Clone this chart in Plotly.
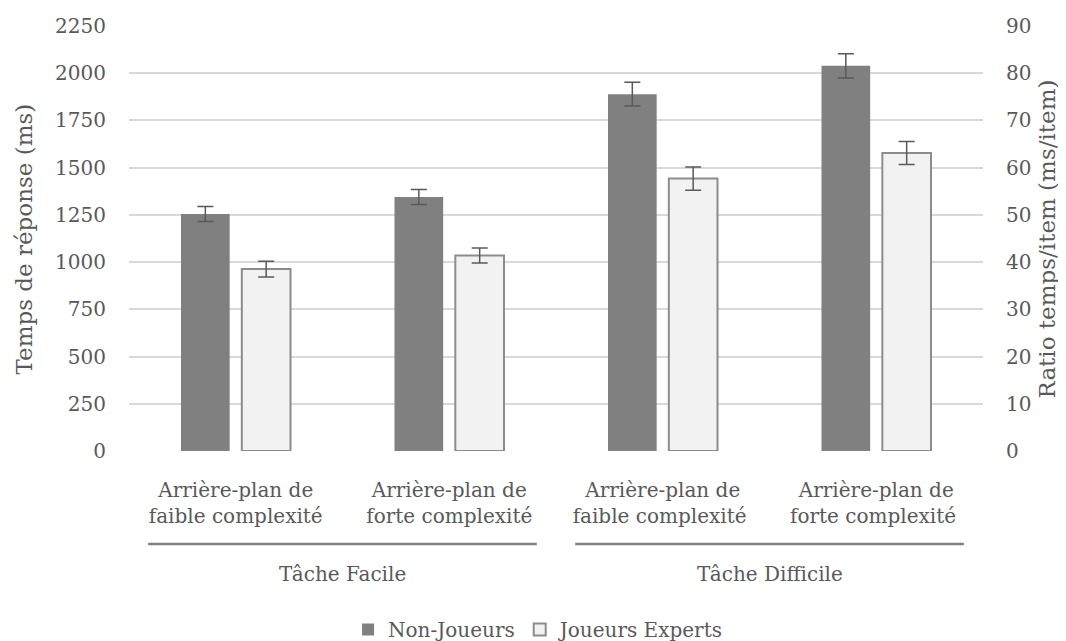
import plotly.graph_objects as go

categories = ["Arrière-plan de<br>faible complexité", "Arrière-plan de<br>forte complexité",
              "Arrière-plan de<br>faible complexité ", "Arrière-plan de<br>forte complexité "]
groups = ["Tâche Facile", "Tâche Difficile"]
non_joueurs = [1255, 1345, 1889, 2039]
non_joueurs_err = [40, 40, 63, 64]
joueurs_experts = [963, 1035, 1442, 1578]
joueurs_experts_err = [42, 40, 62, 61]
left_ticks = [0, 250, 500, 750, 1000, 1250, 1500, 1750, 2000, 2250]
right_ticks = [0, 10, 20, 30, 40, 50, 60, 70, 80, 90]
left_title = "Temps de réponse (ms)"
right_title = "Ratio temps/item (ms/item)"

FONT = "DejaVu Serif"
TXT = "#595959"

fig = go.Figure()
fig.add_trace(go.Bar(
    x=categories, y=non_joueurs, name="Non-Joueurs",
    marker=dict(color="#808080", line=dict(width=0)),
    error_y=dict(type="data", array=non_joueurs_err, color="#595959", thickness=1.5, width=8),
))
fig.add_trace(go.Bar(
    x=categories, y=joueurs_experts, name="Joueurs Experts",
    marker=dict(color="#f2f2f2", line=dict(color="#8c8c8c", width=2)),
    error_y=dict(type="data", array=joueurs_experts_err, color="#595959", thickness=1.5, width=8),
))
# invisible trace to activate the secondary axis
fig.add_trace(go.Scatter(x=categories, y=[None] * 4, yaxis="y2", showlegend=False,
                         hoverinfo="skip", mode="markers"))

fig.update_layout(
    width=1066, height=641,
    margin=dict(l=121, r=91, t=18, b=198, autoexpand=False),
    paper_bgcolor="white", plot_bgcolor="white",
    font=dict(family=FONT, size=20, color=TXT),
    barmode="group", bargap=0.43, bargroupgap=0.2,
    showlegend=True,
    legend=dict(orientation="h", x=0.319, xref="container", xanchor="left",
                y=0, yref="container", yanchor="bottom", font=dict(size=20, color=TXT),
                itemwidth=30, traceorder="normal"),
    xaxis=dict(type="category", showgrid=False, showline=False, ticks="", automargin=False,
               tickfont=dict(size=20, color=TXT), ticklabelstandoff=25, range=[-0.5, 3.5]),
    yaxis=dict(range=[0, 2250], tickvals=left_ticks, showgrid=True, gridcolor="#d9d9d9",
               gridwidth=1.5, zeroline=False, showline=False, ticks="", automargin=False,
               ticklabelstandoff=22, tickfont=dict(size=20, color=TXT)),
    yaxis2=dict(range=[0, 90], tickvals=right_ticks, overlaying="y", side="right",
                showgrid=False, zeroline=False, showline=False, ticks="", automargin=False,
                ticklabelstandoff=22, tickfont=dict(size=20, color=TXT)),
)

# axis titles
fig.add_annotation(x=-0.123, xref="paper", y=0.5, yref="paper", text=left_title, textangle=-90,
                   showarrow=False, xanchor="center", yanchor="middle",
                   font=dict(size=23, color=TXT))
fig.add_annotation(x=1.0749, xref="paper", y=0.5, yref="paper", text=right_title, textangle=-90,
                   showarrow=False, xanchor="center", yanchor="middle",
                   font=dict(size=23, color=TXT))

# group separators and group labels
for i, g in enumerate(groups):
    c = 2 * i + 0.5
    fig.add_shape(type="line", xref="x", yref="paper", x0=c - 0.91, x1=c + 0.91,
                  y0=-0.2188, y1=-0.2188, line=dict(color="#808080", width=2.5))
    fig.add_annotation(x=c, xref="x", y=-0.289, yref="paper", text=g, showarrow=False,
                       font=dict(size=20, color=TXT), yanchor="middle")

fig.write_html("out.html")
